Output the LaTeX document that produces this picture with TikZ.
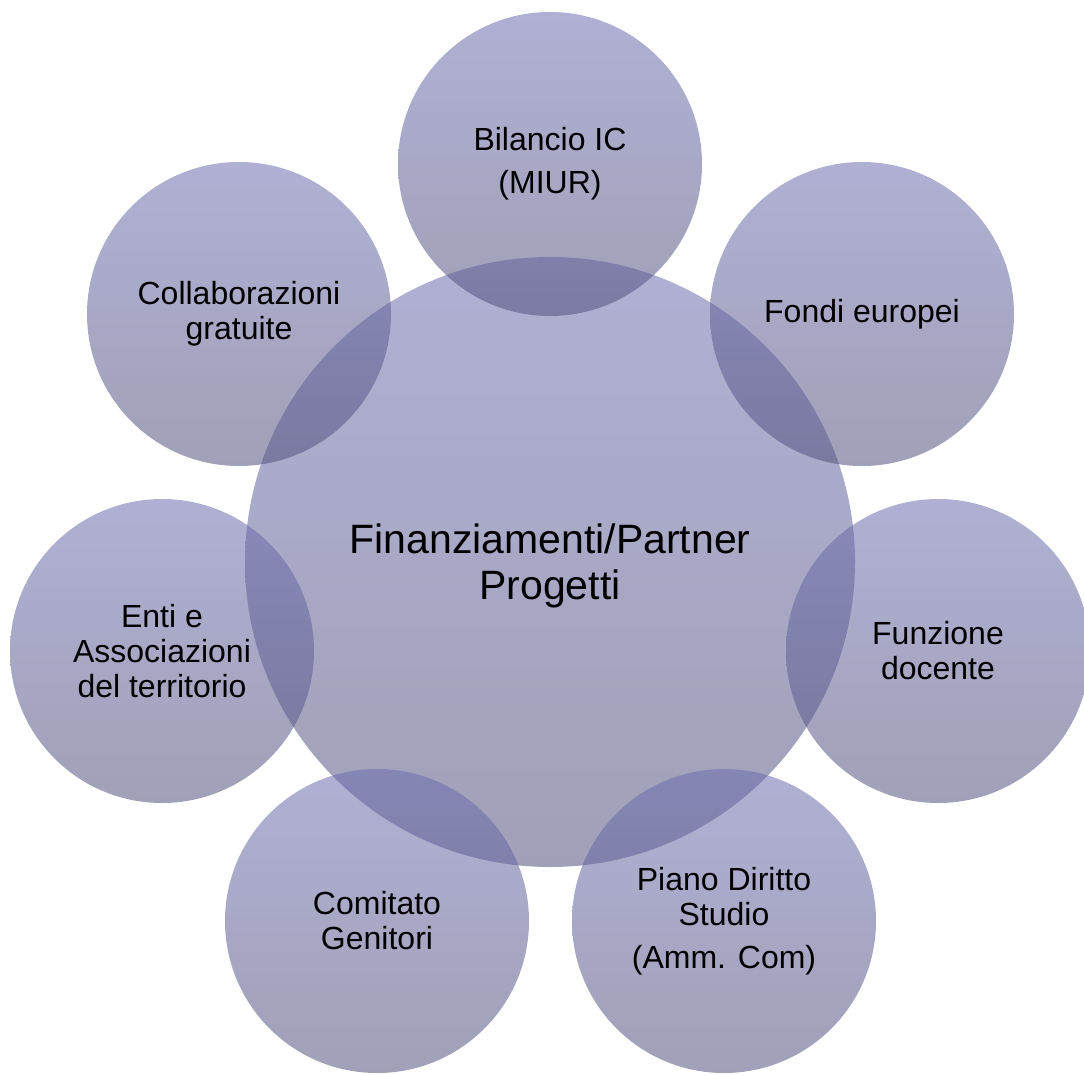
\documentclass[tikz,border=0pt]{standalone}
\usepackage{fontspec}
\setmainfont{Liberation Sans}
\begin{document}
\begin{tikzpicture}[x=1pt,y=-1pt,
  ball/.style={circle, inner sep=0pt, draw=none,
    top color={rgb,255:red,111;green,111;blue,177},
    bottom color={rgb,255:red,82;green,82;blue,126},
    fill opacity=0.55},
  small/.style={ball, minimum size=304pt},
  big/.style={ball, minimum size=610pt},
  lbl/.style={align=center, text=black, font=\fontsize{32}{35}\selectfont},
  mainlbl/.style={align=center, text=black, font=\fontsize{41}{46}\selectfont}]
\useasboundingbox (0,0) rectangle (1084,1074);
\node[big] (c) at (550,562) {};
\node[small] (t)  at (550,164) {};
\node[small] (tr) at (862,314) {};
\node[small] (r)  at (938,651) {};
\node[small] (br) at (724,921) {};
\node[small] (bl) at (377,921) {};
\node[small] (l)  at (162,651) {};
\node[small] (tl) at (239,314) {};
\node[mainlbl] (ct) at (550,566) {Finanziamenti/Partner\\Progetti};
\node[lbl] (tt) at (t) {Bilancio IC\\[8pt](MIUR)};
\node[lbl] (trt) at (tr) {Fondi europei};
\node[lbl] (rt) at (r) {Funzione\\docente};
\node[lbl] (brt) at (br) {Piano Diritto\\Studio\\[8pt](Amm. Com)};
\node[lbl] (blt) at (bl) {Comitato\\Genitori};
\node[lbl] (lt) at (l) {Enti e\\Associazioni\\del territorio};
\node[lbl] (tlt) at (tl) {Collaborazioni\\gratuite};
\end{tikzpicture}
\end{document}
